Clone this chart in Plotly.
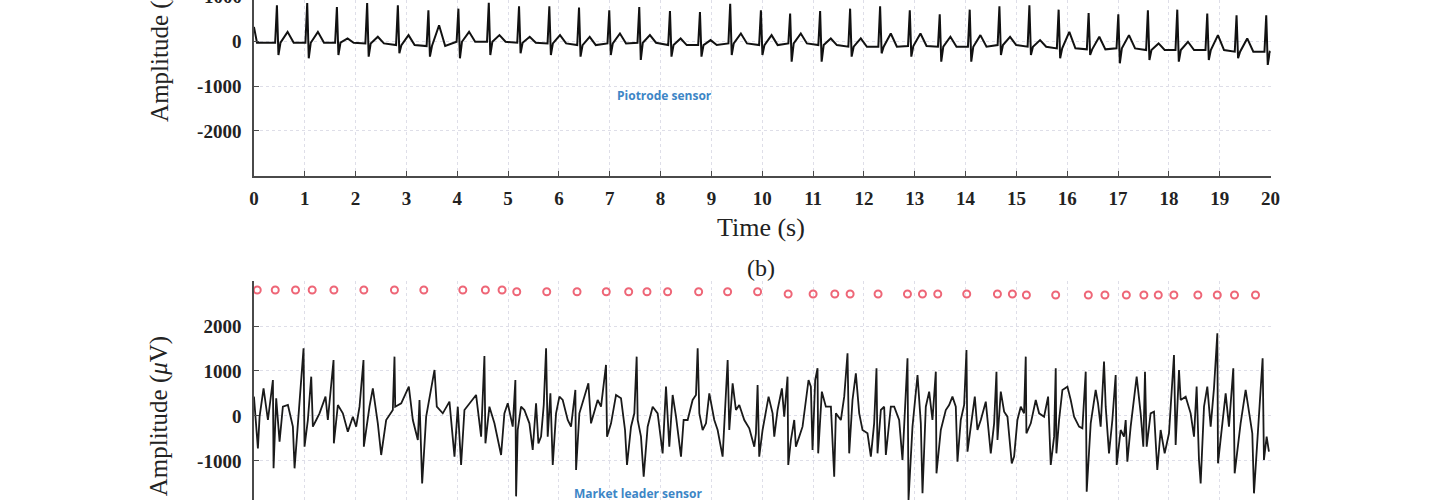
import plotly.graph_objects as go

# ---------------- Top panel: Piotrode sensor (values in µV, time in s) ----------------
pio_start_time = [0.0, 0.06]
pio_start_amp = [330, -26]
pio_r_time = [0.452, 1.048, 1.632, 2.227, 2.831, 3.432, 4.022, 4.620, 5.215, 5.811,
               6.395, 6.990, 7.580, 8.184, 8.774, 9.369, 9.973, 10.548, 11.138, 11.728,
               12.318, 12.902, 13.491, 14.081, 14.665, 15.255, 15.830, 16.420, 17.004, 17.586,
               18.164, 18.754, 19.330, 19.914]
pio_r_amp = [810, 862, 773, 862, 810, 699, 736, 870, 788, 788,
             759, 699, 773, 685, 662, 847, 699, 625, 685, 736,
             788, 699, 611, 714, 788, 810, 714, 640, 611, 699,
             714, 625, 588, 588]
pio_s_amp = [-300, -374, -300, -337, -263, -337, -374, -300, -263, -300,
             -337, -300, -411, -337, -337, -300, -300, -448, -448, -337,
             -263, -337, -448, -448, -300, -300, -374, -300, -485, -411,
             -448, -411, -374, -522]
pio_t_amp = [218, 218, 70, 107, 144, 366, 218, 144, 107, 144,
             107, 181, 144, 70, 33, 181, 144, 181, 70, 70,
             181, 181, 107, 144, 107, 33, 218, 107, 144, -41,
             -4, 144, 70, -263]
pio_base = [-26, -26, -26, -41, -78, -100, -4, -4, -26, -41,
            -78, -41, -26, -78, -78, -41, -78, -41, -78, -115,
            -115, -100, -115, -115, -78, -115, -152, -174, -152, -189,
            -189, -189, -226, -226]

# ---------------- Bottom panel: Market leader sensor ----------------
ml_time_a = [0.000, 0.078, 0.111, 0.189, 0.275, 0.373, 0.386, 0.438, 0.504, 0.569,
             0.668, 0.766, 0.799, 0.897, 0.976, 0.995, 1.061, 1.127, 1.159, 1.225,
             1.290, 1.408, 1.454, 1.566, 1.572, 1.651, 1.749, 1.847, 1.946, 2.011,
             2.077, 2.155, 2.162, 2.273, 2.339, 2.437, 2.503, 2.601, 2.732, 2.765,
             2.779, 2.897, 3.047, 3.126, 3.224, 3.257, 3.309, 3.388, 3.552, 3.597,
             3.715, 3.846, 3.945, 4.010, 4.075, 4.141, 4.239, 4.370, 4.469, 4.534,
             4.554, 4.632, 4.731, 4.862, 4.927]
ml_amp_a = [430, -719, -15, 615, -89, 800, -1163, 393, -571, 207,
            245, -237, -1163, 282, 1504, -682, -89, 874, -237, -89,
            59, 430, -89, 1245, -608, 245, 59, -348, -15, -237,
            207, 1245, -682, 207, 615, -163, -867, -89, 133, 1319,
            207, 282, 652, -89, -534, 356, -1497, -15, 1023, 207,
            59, 319, -904, 207, -1089, 133, 282, 467, -459, 1334,
            -608, 207, -163, -867, 59]

ml_time_b = [4.993, 5.091, 5.143, 5.157, 5.189, 5.255, 5.320, 5.419, 5.484, 5.550,
             5.596, 5.648, 5.701, 5.747, 5.779, 5.832, 5.878, 5.943, 6.009, 6.074,
             6.173, 6.238, 6.323, 6.337, 6.402, 6.500, 6.579, 6.631, 6.697, 6.762,
             6.828, 6.926, 6.946, 7.025, 7.123, 7.221, 7.300, 7.339, 7.418, 7.483,
             7.529, 7.549, 7.614, 7.667, 7.745, 7.844, 7.942, 8.040, 8.106, 8.171,
             8.237, 8.303, 8.401, 8.453, 8.532, 8.630, 8.696, 8.729, 8.762, 8.827,
             8.893, 8.958, 9.056, 9.122, 9.220, 9.319, 9.351, 9.417, 9.482, 9.548,
             9.646, 9.744, 9.843, 9.875, 9.908, 9.940]
ml_amp_b = [282, -237, 800, -1786, -311, 207, 133, -163, -756, 282,
            -608, -459, 245, 1504, -459, 504, -1089, 59, 430, 356,
            -89, -237, 578, -1200, 59, 430, 726, -163, 133, 356,
            207, 1134, -459, -163, 467, 393, -311, -1089, -237, 59,
            1319, -89, -459, -1349, -237, 207, 59, -830, 652, -682,
            467, -15, -904, -89, -89, 356, 467, 1504, 59, -311,
            -163, 504, -89, -311, -904, 1245, -311, 726, 133, 245,
            -89, -274, -682, -385, 689, -904]

ml_time_c = [10.006, 10.124, 10.203, 10.236, 10.301, 10.386, 10.432, 10.497, 10.511, 10.563,
             10.629, 10.661, 10.727, 10.792, 10.910, 10.956, 10.989, 11.041, 11.087, 11.100,
             11.172, 11.251, 11.350, 11.415, 11.448, 11.546, 11.612, 11.677, 11.710, 11.775,
             11.841, 11.907, 11.972, 12.070, 12.136, 12.201, 12.247, 12.267, 12.333, 12.398,
             12.431, 12.529, 12.595, 12.693, 12.758, 12.857, 12.877, 12.955, 13.054, 13.119,
             13.152, 13.217, 13.283, 13.348, 13.414, 13.427, 13.512, 13.610, 13.676, 13.741,
             13.807, 13.840, 13.905, 13.971, 14.017, 14.037, 14.102, 14.181, 14.233, 14.299,
             14.397, 14.495, 14.561, 14.607, 14.627, 14.692, 14.758, 14.823, 14.908, 14.954]
ml_amp_c = [-311, 430, 59, -459, 133, 615, -15, 874, -1089, -534,
            -89, -682, -459, -237, 800, 652, -756, 800, 1060, -830,
            541, 207, 207, -1349, 59, -89, 430, 1393, -830, 356,
            948, 59, -311, -385, -904, -163, 1060, -830, 133, 207,
            -867, 207, 207, -89, -978, 1282, -1867, -237, 911, -163,
            -1719, 207, 541, -89, 985, -1275, -311, 133, 245, 430,
            207, -1015, -89, 245, 1467, -793, -237, 430, -311, -89,
            319, -830, -163, 985, -534, 541, 96, -15, -1052, -904]

ml_time_d = [15.019, 15.085, 15.150, 15.183, 15.196, 15.282, 15.380, 15.446, 15.544, 15.623,
             15.675, 15.741, 15.773, 15.786, 15.839, 15.904, 16.003, 16.068, 16.134, 16.232,
             16.297, 16.363, 16.382, 16.461, 16.559, 16.605, 16.657, 16.723, 16.756, 16.821,
             16.887, 16.952, 16.972, 17.051, 17.116, 17.149, 17.182, 17.247, 17.365, 17.444,
             17.496, 17.529, 17.562, 17.640, 17.706, 17.771, 17.837, 17.916, 18.001, 18.099,
             18.132, 18.198, 18.231, 18.329, 18.427, 18.493, 18.545, 18.591, 18.624, 18.690,
             18.755, 18.821, 18.886, 18.952, 18.965, 19.050, 19.116, 19.181, 19.266, 19.293,
             19.410, 19.509, 19.574, 19.640, 19.673, 19.738, 19.804, 19.843, 19.869, 19.922,
             19.967]
ml_amp_d = [-89, 207, 59, 1319, -385, -163, 356, 59, -15, 430,
            -1089, -459, 1060, -830, -89, 578, 652, 356, -15, -237,
            -274, 985, -1682, -163, 578, 282, -237, 1208, 207, -830,
            -89, 911, -1089, -311, -459, -89, -1015, -237, 874, 59,
            -682, 985, -682, 59, 96, -1200, -311, -830, -385, 1356,
            -645, 1023, 356, 430, 59, -459, 652, -978, -1497, 207,
            652, -237, 615, 1838, -1052, -163, 504, -237, 1060, -1275,
            -163, 578, 96, -385, -1719, -534, 652, 1282, -978, -459,
            -793]

# detected beats (red circles)
beat_time = [0.065, 0.419, 0.818, 1.146, 1.573, 2.162, 2.764, 3.342, 4.109, 4.553, 4.881,
             5.170, 5.760, 6.356, 6.931, 7.372, 7.732, 8.138, 8.748, 9.318, 9.908,
             10.509, 11.000, 11.427, 11.728, 12.278, 12.856, 13.151, 13.452, 14.022, 14.626, 14.920,
             15.196, 15.772, 16.414, 16.741, 17.162, 17.507, 17.790, 18.097, 18.569, 18.951,
             19.290, 19.703]
beat_level = [2800] * 11 + [2760] * 10 + [2710] * 11 + [2690] * 12

x_ticks = list(range(0, 21))
top_y_ticks = [-2000, -1000, 0]
top_y_labels = ["-2000", "-1000", "0"]
bot_y_ticks = [-1000, 0, 1000, 2000]
bot_y_labels = ["-1000", "0", "1000", "2000"]

# ---------------- build top trace vertices from the read beat values ----------------
pio_x = list(pio_start_time)
pio_y = list(pio_start_amp)
for tr, ra, sa, ta, b in zip(pio_r_time, pio_r_amp, pio_s_amp, pio_t_amp, pio_base):
    pio_x += [tr - 0.035, tr, tr + 0.03, tr + 0.07, tr + 0.21, tr + 0.33]
    pio_y += [b, ra, sa, b, ta, b]

ml_time = ml_time_a + ml_time_b + ml_time_c + ml_time_d
ml_amp = ml_amp_a + ml_amp_b + ml_amp_c + ml_amp_d

W, H = 1440, 500
SERIF = "Liberation Serif"
AX = "#4a4a4a"
GRID = "#dedee8"


def fx(p):
    # horizontal pixel position -> paper fraction (compensates observed page scaling)
    return (p - 3.6) / (0.9909 * W)


def fy(p):
    return (H - p) / H


fig = go.Figure()
fig.add_trace(go.Scatter(x=pio_x, y=pio_y, mode="lines",
                         line=dict(color="#111111", width=2), xaxis="x", yaxis="y",
                         showlegend=False, hoverinfo="skip"))
fig.add_trace(go.Scatter(x=ml_time, y=ml_amp, mode="lines",
                         line=dict(color="#1a1a1a", width=1.8), xaxis="x2", yaxis="y2",
                         showlegend=False, hoverinfo="skip"))
fig.add_trace(go.Scatter(x=beat_time, y=beat_level, mode="markers",
                         marker=dict(symbol="circle-open", size=7, color="#ee6677",
                                     line=dict(width=2, color="#ee6677")),
                         xaxis="x2", yaxis="y2", showlegend=False, hoverinfo="skip"))

tickfont = dict(family=SERIF, size=19, color="#222222", weight="bold")

common_x = dict(domain=[fx(252.7), fx(1270)], range=[0, 20], tickvals=x_ticks,
                showgrid=True, gridcolor=GRID, griddash="dot", gridwidth=1,
                zeroline=False)
common_y = dict(showgrid=True, gridcolor=GRID, griddash="dot", gridwidth=1,
                zeroline=False, showline=True, linecolor=AX, linewidth=1.5,
                ticks="inside", ticklen=5, tickcolor=AX, tickfont=tickfont,
                ticklabelstandoff=7)

fig.update_layout(
    width=W, height=H,
    margin=dict(l=0, r=0, t=0, b=0),
    paper_bgcolor="white", plot_bgcolor="white",
    xaxis=dict(**common_x, anchor="y", showline=True, linecolor=AX, linewidth=1.5,
               ticks="inside", ticklen=5, tickcolor=AX, tickfont=tickfont,
               ticklabelstandoff=5),
    yaxis=dict(**common_y, domain=[fy(175.7), 1], range=[-3000, 930],
               tickvals=top_y_ticks, ticktext=top_y_labels, anchor="x"),
    xaxis2=dict(**common_x, anchor="y2", showline=False, ticks="",
                showticklabels=False),
    yaxis2=dict(**common_y, domain=[0, fy(281)], range=[-1867, 3000],
                tickvals=bot_y_ticks, ticktext=bot_y_labels, anchor="x2"),
)

ann = [
    dict(text="Amplitude (<i>μ</i>V)", x=fx(158), y=fy(41.6), textangle=-90,
         font=dict(family=SERIF, size=25, color="#222222")),
    dict(text="Amplitude (<i>μ</i>V)", x=fx(158), y=fy(416), textangle=-90,
         font=dict(family=SERIF, size=25, color="#222222")),
    dict(text="1000", x=fx(243), y=fy(-3.1), xanchor="right", font=tickfont),
    dict(text="-2000", x=fx(241), y=fy(506), xanchor="right", font=tickfont),
    dict(text="Time (s)", x=fx(760), y=fy(228),
         font=dict(family=SERIF, size=26, color="#222222")),
    dict(text="(b)", x=fx(760), y=fy(268),
         font=dict(family=SERIF, size=24, color="#222222")),
    dict(text="Piotrode sensor", x=fx(664), y=fy(96),
         font=dict(family="Open Sans", size=12, color="#3d86c6", weight="bold")),
    dict(text="Market leader sensor", x=fx(637), y=fy(493),
         font=dict(family="Open Sans", size=12, color="#3d86c6", weight="bold")),
]
for a in ann:
    a.update(xref="paper", yref="paper", showarrow=False)
    a.setdefault("xanchor", "center")
    a.setdefault("yanchor", "middle")
fig.update_layout(annotations=ann)

fig.write_html("out.html",
               config={"displayModeBar": False},
               post_script="document.body.style.margin='0';"
                           "document.body.style.overflow='hidden';")
